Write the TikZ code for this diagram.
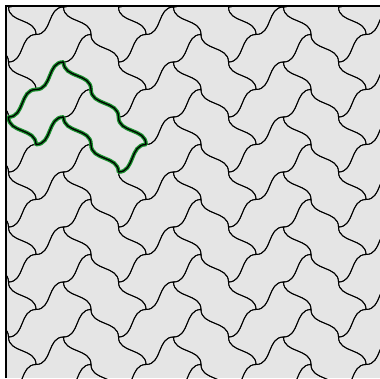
\documentclass[tikz,border=0pt]{standalone}
\usepackage{tikz}
\usetikzlibrary{calc}
\definecolor{tilegray}{RGB}{229,229,229}
\definecolor{tilegreen}{RGB}{25,145,45}
\newcommand{\cc}{0.3}
\tikzset{
  pr/.style={insert path={.. controls +(\cc,\cc) and +(-\cc,-\cc) .. ++(1,0)}},
  pl/.style={insert path={.. controls +(-\cc,-\cc) and +(\cc,\cc) .. ++(-1,0)}},
  qd/.style={insert path={.. controls +(-\cc,\cc) and +(\cc,-\cc) .. ++(0,1)}},
  qu/.style={insert path={.. controls +(\cc,-\cc) and +(-\cc,\cc) .. ++(0,-1)}},
  tline/.style={black, line width=0.9pt},
  hline/.style={tilegreen, line width=3.8pt, line join=round},
  hcore/.style={black, line width=1.3pt, line join=round},
  frm/.style={black, line width=1.8pt},
}

\begin{document}
\begin{tikzpicture}[x=1pt, y=1pt]
  \useasboundingbox (0,-378) rectangle (380,0);
  \fill[tilegray] (6,-6) rectangle (380,-378);
  \begin{scope}
    \clip (6,-6) rectangle (380,-378);
    \begin{scope}[shift={(8.5,-7)}, x={(27.5pt,27.5pt)}, y={(27.5pt,-27.5pt)}]
      \foreach \k in {-10,...,7}{
        \foreach \m in {-3,...,5}{
          \pgfmathtruncatemacro\pa{-2+\k+2*\m}
          \pgfmathtruncatemacro\qa{2-\k+2*\m}
          % lying domino, then standing one
          \draw[tline] (\pa,\qa) [pr] [pr] [qd] [pl] [pl] [qu] -- cycle;
          \draw[tline] (\pa+1,\qa+1) [pr] [qd] [qd] [pl] [qu] [qu] -- cycle;
        }
      }
      \draw[hline] (-2,2) [pr] [pr] [qd] [qd] [qd] [pl] [qu] [qu] [pl] [qu] -- cycle;
      \draw[hcore] (-2,2) [pr] [pr] [qd] [qd] [qd] [pl] [qu] [qu] [pl] [qu] -- cycle;
    \end{scope}
  \end{scope}
  \draw[frm] (6,-378) -- (6,-6) -- (380,-6);
\end{tikzpicture}
\end{document}
